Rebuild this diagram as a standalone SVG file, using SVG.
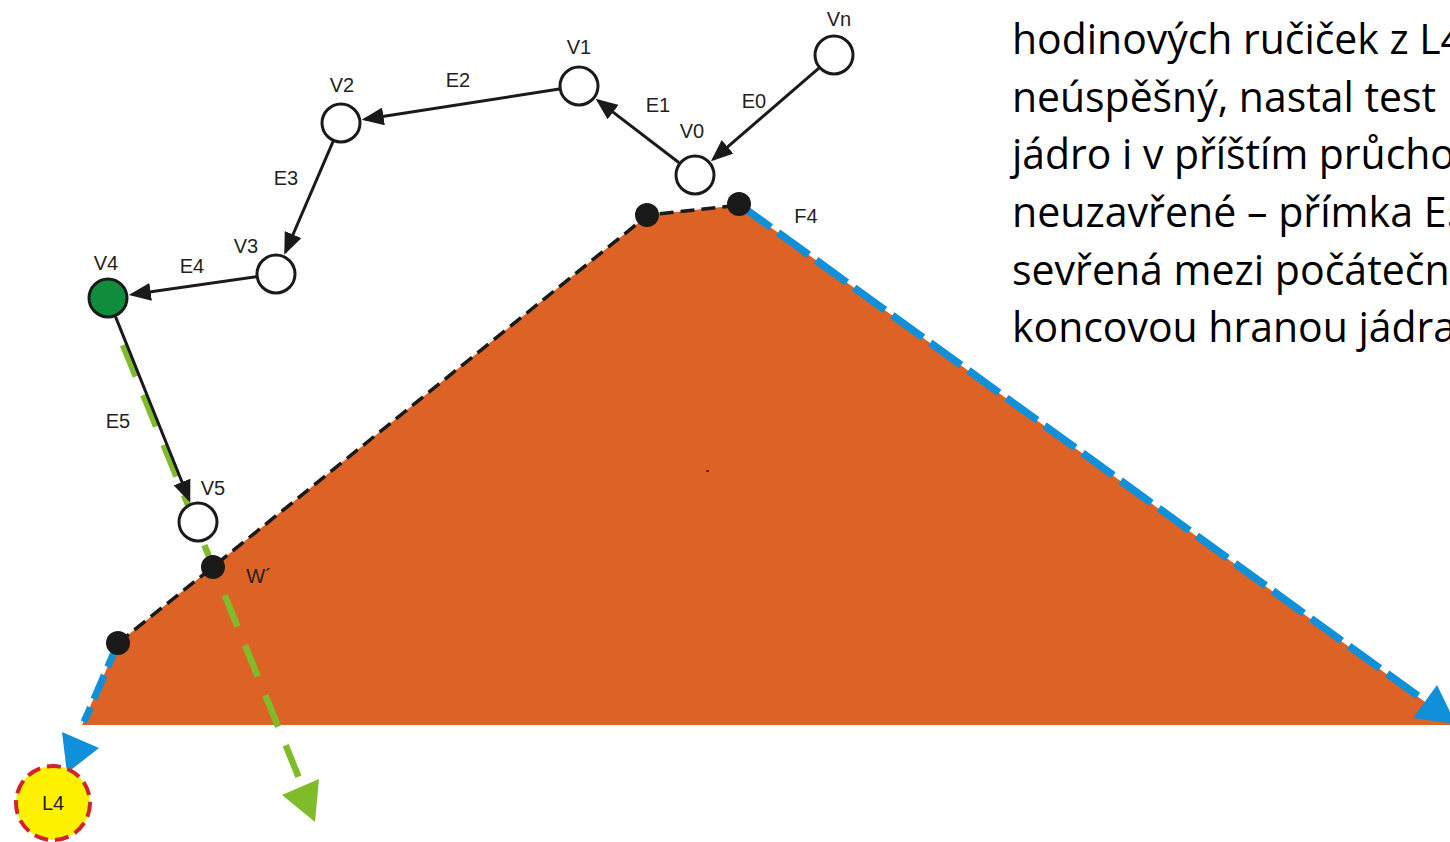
<svg xmlns="http://www.w3.org/2000/svg" width="1450" height="842" viewBox="0 0 1450 842">
<style>
.lbl{font-family:"Liberation Sans",Arial,sans-serif;font-size:20px;fill:#231F20;text-anchor:middle}
.body{font-family:"Open Sans","Noto Sans",sans-serif;font-size:42px;fill:#000}
.node{fill:#fff;stroke:#1a1a1a;stroke-width:3}
.edge{stroke:#1a1a1a;stroke-width:3;fill:none;marker-end:url(#arr)}
.dot{fill:#1a1a1a}
</style>
<defs>
<marker id="arr" markerUnits="userSpaceOnUse" markerWidth="22" markerHeight="18" viewBox="0 0 22 18" refX="19" refY="9" orient="auto">
<path d="M0,0 L22,9 L0,18 z" fill="#1a1a1a"/>
</marker>
</defs>
<rect x="0" y="0" width="1450" height="842" fill="#fff"/>
<g id="text">
<text class="body" x="1012" y="54" textLength="452" lengthAdjust="spacingAndGlyphs">hodinových ručiček z L4</text>
<text class="body" x="1012" y="112" textLength="424" lengthAdjust="spacingAndGlyphs">neúspěšný, nastal test</text>
<text class="body" x="1012" y="169" textLength="493" lengthAdjust="spacingAndGlyphs">jádro i v příštím průchodu</text>
<text class="body" x="1012" y="227" textLength="458" lengthAdjust="spacingAndGlyphs">neuzavřené – přímka E5</text>
<text class="body" x="1012" y="285" textLength="448" lengthAdjust="spacingAndGlyphs">sevřená mezi počáteční</text>
<text class="body" x="1012" y="342" textLength="444" lengthAdjust="spacingAndGlyphs">koncovou hranou jádra</text>
</g>
<g id="kernel">
<polygon points="82,725 118,643 214,566 648,215 740,205 1450,720 1450,725" fill="#DD6226"/>
<rect x="706" y="470" width="3" height="2" fill="#5a2a10"/>
<polyline points="118,643 214,566 648,215 740,205" fill="none" stroke="#1a1a1a" stroke-width="3.5" stroke-dasharray="14 7"/>
</g>
<g id="connectors">
<line x1="740" y1="205" x2="1425" y2="701" stroke="#1090D8" stroke-width="7.5" stroke-dasharray="38 9"/>
<polygon points="1437,685 1413,718 1456,724" fill="#1090D8"/>
<line x1="118" y1="643" x2="84" y2="722" stroke="#1090D8" stroke-width="7" stroke-dasharray="26 9"/>
<polygon points="62,732 99,748 67,773" fill="#1090D8"/>
<line x1="123" y1="345" x2="299" y2="778" stroke="#80BC2A" stroke-width="6.5" stroke-dasharray="34 20"/>
<polygon points="282,795 319,779 315,822" fill="#80BC2A"/>
<line class="edge" x1="818.9" y1="68.1" x2="713.2" y2="159.3"/>
<line class="edge" x1="679.1" y1="162.8" x2="598" y2="100.6"/>
<line class="edge" x1="559.2" y1="89.1" x2="364.7" y2="119.3"/>
<line class="edge" x1="333.1" y1="141.4" x2="285.5" y2="252"/>
<line class="edge" x1="256.2" y1="276.8" x2="131.8" y2="294.6"/>
<line class="edge" x1="115.5" y1="316.6" x2="189.1" y2="499.7"/>
</g>
<g id="points">
<circle class="dot" cx="647" cy="215" r="12"/>
<circle class="dot" cx="739" cy="204" r="12"/>
<circle class="dot" cx="213" cy="567" r="12"/>
<circle class="dot" cx="118" cy="643" r="12"/>
</g>
<g id="Vn"><circle class="node" cx="834" cy="55" r="19"/><text class="lbl" x="839" y="26">Vn</text></g>
<g id="V0"><circle class="node" cx="695" cy="175" r="19"/><text class="lbl" x="692" y="138">V0</text></g>
<g id="V1"><circle class="node" cx="579" cy="86" r="19"/><text class="lbl" x="579" y="54">V1</text></g>
<g id="V2"><circle class="node" cx="341" cy="123" r="19"/><text class="lbl" x="342" y="92">V2</text></g>
<g id="V3"><circle class="node" cx="276" cy="274" r="19"/><text class="lbl" x="246" y="253">V3</text></g>
<g id="V4"><circle class="node" cx="108" cy="298" r="19" style="fill:#0F8C3C"/><text class="lbl" x="106" y="270">V4</text></g>
<g id="V5"><circle class="node" cx="198" cy="522" r="19"/><text class="lbl" x="213" y="495">V5</text></g>
<g id="L4"><circle cx="53" cy="803" r="37" fill="#FFF200" stroke="#D2232A" stroke-width="4" stroke-dasharray="14 7"/><text class="lbl" x="53" y="810">L4</text></g>
<g id="labels">
<text class="lbl" x="754" y="108">E0</text>
<text class="lbl" x="658" y="112">E1</text>
<text class="lbl" x="458" y="87">E2</text>
<text class="lbl" x="286" y="185">E3</text>
<text class="lbl" x="192" y="273">E4</text>
<text class="lbl" x="118" y="428">E5</text>
<text class="lbl" x="806" y="223">F4</text>
<text class="lbl" x="259" y="583">W´</text>
</g>
</svg>
